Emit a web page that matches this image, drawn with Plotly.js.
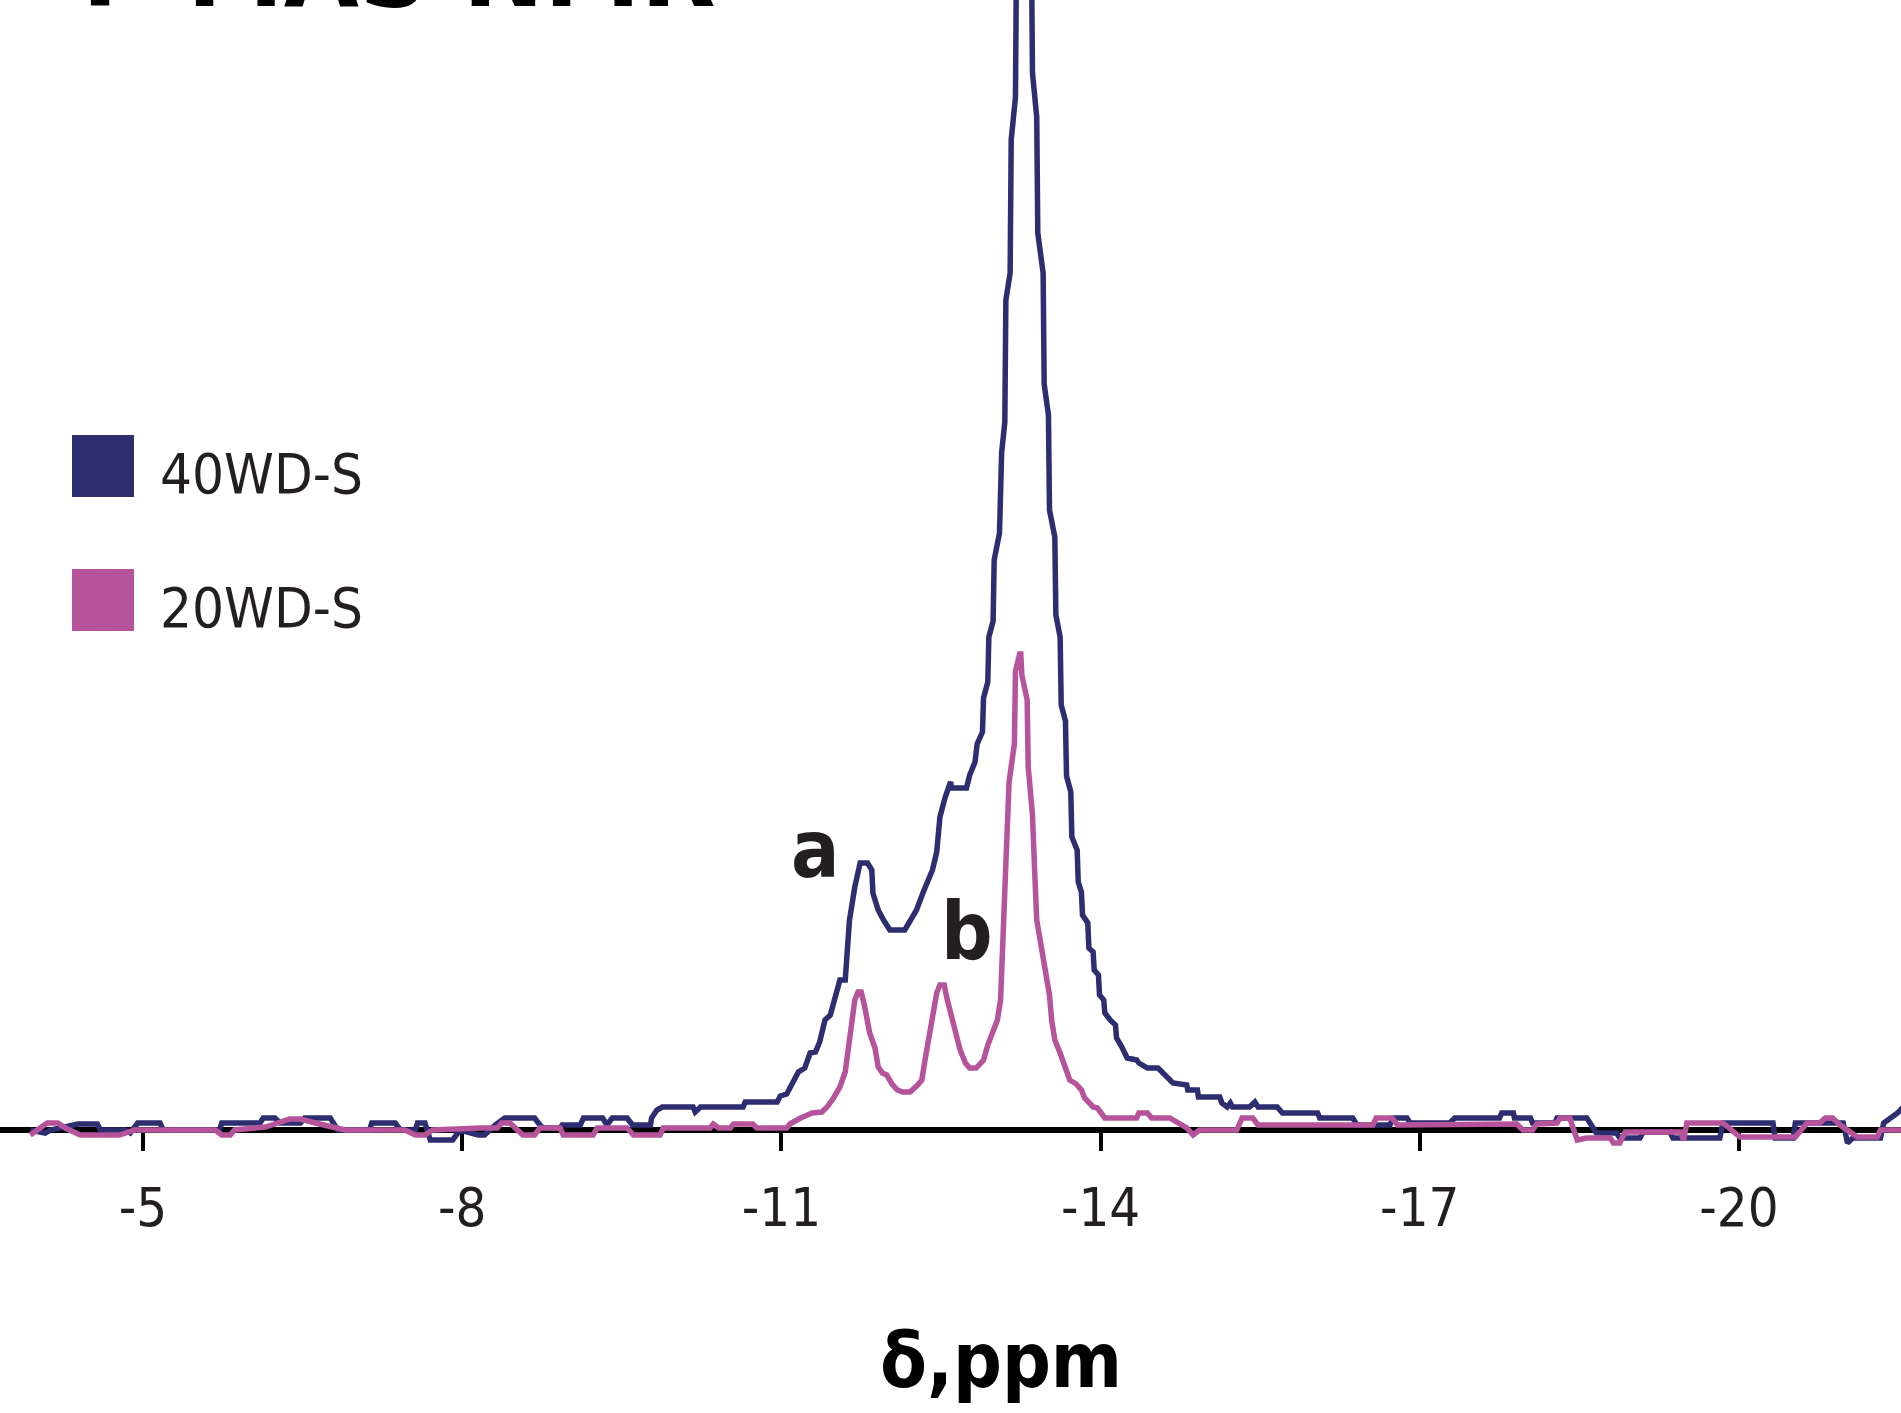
<!DOCTYPE html>
<html>
<head>
<meta charset="utf-8">
<script src="https://cdn.plot.ly/plotly-3.0.1.min.js"></script>
<style>
html,body{margin:0;padding:0;background:#fff;}
#chart{width:1901px;height:1413px;}
</style>
</head>
<body>
<div id="chart"></div>
<script>
// ---- data (chemical shift in ppm, intensity in arbitrary units) ----
const seriesNames = ["40WD-S", "20WD-S"];
const seriesColors = ["#2c2e70", "#b5549b"];

const ppm40 = [-3.94,-4.08,-4.13,-4.39,-4.57,-4.60,-4.83,-4.88,-4.95,-5.16,-5.19,-5.72,-5.74,-6.10,-6.13,-6.24,-6.29,-6.48,-6.52,-6.76,
-6.83,-7.13,-7.15,-7.37,-7.42,-7.56,-7.58,-7.65,-7.70,-7.91,-7.98,-8.15,-8.21,-8.31,-8.40,-8.68,-8.73,-8.76,-8.92,-8.94,
-9.11,-9.14,-9.32,-9.36,-9.41,-9.55,-9.60,-9.77,-9.78,-9.83,-9.88,-10.17,-10.19,-10.24,-10.64,-10.66,-10.96,-10.99,-11.05,-11.08,
-11.11,-11.16,-11.22,-11.27,-11.32,-11.36,-11.41,-11.46,-11.52,-11.55,-11.60,-11.62,-11.64,-11.69,-11.74,-11.81,-11.85,-11.86,-11.91,-11.96,
-12.02,-12.16,-12.21,-12.27,-12.33,-12.42,-12.46,-12.49,-12.54,-12.59,-12.60,-12.74,-12.77,-12.82,-12.84,-12.89,-12.90,-12.94,-12.95,-12.99,
-13.00,-13.05,-13.07,-13.10,-13.11,-13.15,-13.16,-13.20,-13.21,-13.27,-13.35,-13.36,-13.40,-13.41,-13.46,-13.47,-13.51,-13.52,-13.57,-13.58,
-13.62,-13.63,-13.67,-13.68,-13.72,-13.73,-13.78,-13.79,-13.82,-13.83,-13.88,-13.89,-13.93,-13.94,-13.98,-13.99,-14.03,-14.04,-14.09,-14.14,
-14.15,-14.18,-14.20,-14.25,-14.34,-14.36,-14.44,-14.54,-14.61,-14.68,-14.81,-14.82,-14.91,-14.92,-15.12,-15.14,-15.19,-15.22,-15.24,-15.40,
-15.45,-15.48,-15.66,-15.71,-16.04,-16.06,-16.37,-16.41,-16.72,-16.75,-16.88,-16.91,-17.28,-17.33,-17.75,-17.77,-17.88,-17.89,-18.04,-18.06,
-18.27,-18.29,-18.57,-18.60,-18.66,-18.85,-18.88,-19.07,-19.10,-19.35,-19.38,-19.82,-19.85,-20.32,-20.34,-20.51,-20.53,-20.98,-21.02,-21.07,
-21.33,-21.36,-21.42,-21.49,-21.56];
const int40 = [0,-0.3,0,0.6,0.6,0,0,-0.3,0.7,0.7,0,0,0.7,0.7,1.2,1.2,0.7,0.7,1.2,1.2,
0,0,0.7,0.7,0,0,0.7,0.7,-1,-1,0,-0.5,-0.5,0.5,1.2,1.2,0.5,0.2,0.2,0.5,
0.5,1.2,1.2,0.5,1.2,1.2,0.5,0.5,1.2,2,2.3,2.3,1.8,2.3,2.3,2.8,2.8,3.4,3.6,4.3,
4.8,5.8,6.2,7.7,7.8,8.8,11,11.5,13.7,15,15,17.7,21,24.3,26.7,26.7,26,23.7,22,21,
20,20,21,22,23.7,26,27.8,31.3,33.3,34.8,34.2,34.2,35.5,36.8,38.6,39.8,43.2,44.8,49.3,50.9,
57,59.7,67.7,70.8,83,85.7,99,103.3,118,130,118,105.7,101.3,89.7,85.7,74.6,71.5,62,59.3,51.5,
49.3,42.5,40.9,35.4,33.8,29.3,28,24.8,23.8,21.5,20.7,18.2,17.8,16,15.5,13.5,13,11.7,11,10.5,
9.2,8.7,8.3,7.2,7,6.7,6.2,6.2,5.5,4.7,4.5,4,4,3.3,3.3,2.7,2.3,2.7,2.3,2.3,
2.8,2.3,2.3,1.7,1.7,1.2,1.2,0.5,0.5,1.2,1.2,0.7,0.7,1.2,1.2,1.7,1.7,1.2,1.2,0.7,
0.7,1.2,1.2,0.7,-0.3,-0.3,-0.8,-0.8,-0.2,-0.2,-0.8,-0.8,0.7,0.7,-0.8,-0.8,0.7,0.7,-1.3,-0.8,
-0.8,0.7,1.2,1.7,2.5];

const ppm20 = [-3.94,-4.10,-4.20,-4.27,-4.41,-4.78,-4.92,-5.68,-5.74,-5.82,-5.86,-6.15,-6.38,-6.48,-6.62,-6.71,-6.90,-7.46,-7.56,-7.65,
-7.72,-8.17,-8.33,-8.37,-8.45,-8.57,-8.68,-8.73,-8.92,-8.95,-9.23,-9.27,-9.55,-9.61,-9.86,-9.89,-10.33,-10.36,-10.41,-10.52,
-10.55,-10.73,-10.77,-11.05,-11.08,-11.18,-11.29,-11.38,-11.43,-11.49,-11.55,-11.60,-11.63,-11.66,-11.69,-11.72,-11.75,-11.78,-11.81,-11.83,
-11.88,-11.91,-11.95,-11.99,-12.04,-12.09,-12.14,-12.21,-12.28,-12.32,-12.35,-12.37,-12.42,-12.46,-12.49,-12.53,-12.56,-12.60,-12.63,-12.68,
-12.73,-12.77,-12.83,-12.90,-12.94,-12.98,-13.03,-13.06,-13.08,-13.11,-13.14,-13.19,-13.20,-13.24,-13.25,-13.26,-13.31,-13.32,-13.36,-13.38,
-13.40,-13.44,-13.48,-13.52,-13.54,-13.57,-13.62,-13.67,-13.71,-13.77,-13.82,-13.85,-13.93,-13.97,-14.04,-14.34,-14.36,-14.44,-14.48,-14.65,
-14.75,-14.81,-14.87,-14.93,-15.28,-15.33,-15.43,-15.48,-16.56,-16.59,-16.74,-16.79,-17.91,-17.97,-18.06,-18.10,-18.29,-18.32,-18.41,-18.48,
-18.57,-18.79,-18.82,-18.88,-18.93,-19.45,-19.48,-19.51,-19.85,-20.01,-20.53,-20.57,-20.64,-20.76,-20.81,-20.88,-20.95,-21.02,-21.11,-21.30,
-21.33,-21.56];
const int20 = [-0.5,0.7,0.7,0.2,-0.5,-0.5,0,0,-0.5,-0.5,0,0.3,1.1,1.1,0.7,0.5,0,0,-0.5,-0.5,
0,0.2,0.2,0.7,0.7,-0.5,-0.5,0.2,0.2,-0.5,-0.5,0.2,0.2,-0.5,-0.5,0.2,0.2,0.6,0.2,0.2,
0.6,0.6,0.2,0.2,0.6,1.2,1.7,1.8,2.3,3.2,4.3,5.8,8,10.5,13,13.8,13.8,12.5,11,9.7,
8.2,6.3,5.7,5.5,4.6,4.0,3.8,3.8,4.5,5,7,8.3,11,13.7,14.5,14.5,13,11.3,9.7,8.0,
6.7,6.2,6.2,7,8.5,9.5,11,13,18.3,27,34.8,38.6,45.9,47.6,47.6,45.5,43,36.3,31.5,26,
21,18.5,16.3,13.5,11,9,7.7,6.2,5,4.6,4,3.2,2.3,2.2,1.2,1.2,1.7,1.7,1.2,1.2,
0.5,0.2,-0.5,0,0,1.2,1.2,0.5,0.5,1.2,1.2,0.5,0.6,0,0,0.6,0.7,1.2,1.2,-1,
-0.8,-0.8,-1.3,-1.3,-0.2,-0.2,-1,0.7,0.7,-0.7,-0.7,-0.2,0.7,0.7,1.2,1.2,0.5,0,-0.7,-0.7,
0,0];

const tickVals = [-5, -8, -11, -14, -17, -20];
const tickText = ["-5", "-8", "-11", "-14", "-17", "-20"];
const peakLabels = ["a", "b"];
const peakLabelPpm = [-11.32, -12.74];
const titleText = "³¹P MAS NMR";
const xTitleText = "δ,ppm";

// ---- layout helpers (pixel geometry of the figure) ----
const W = 1901, H = 1413, BOTTOM = 253;
const PH = H - BOTTOM;            // plot area height in px
const py = v => (PH - v) / PH;    // px from top -> paper y
const px = v => v / W;            // px from left -> paper x

const FONT = "'DejaVu Sans Condensed', 'Liberation Sans Narrow', 'Liberation Sans', Arial, sans-serif";
const TXT = "#231f20";

const traces = [
  {x: ppm40, y: int40, name: seriesNames[0], type: "scatter", mode: "lines",
   line: {color: seriesColors[0], width: 5.5}, showlegend: false, hoverinfo: "skip"},
  {x: ppm20, y: int20, name: seriesNames[1], type: "scatter", mode: "lines",
   line: {color: seriesColors[1], width: 5.5}, showlegend: false, hoverinfo: "skip"}
];

const annotations = [
  {text: titleText, xref: "paper", yref: "paper", x: px(718), y: py(-31), xanchor: "right", yanchor: "middle",
   showarrow: false, font: {family: FONT, size: 108, color: "#000", weight: 700}},
  {text: seriesNames[0], xref: "paper", yref: "paper", x: px(158), y: py(473), xanchor: "left", yanchor: "middle",
   showarrow: false, font: {family: FONT, size: 56, color: TXT}},
  {text: seriesNames[1], xref: "paper", yref: "paper", x: px(158), y: py(608), xanchor: "left", yanchor: "middle",
   showarrow: false, font: {family: FONT, size: 56, color: TXT}},
  {text: peakLabels[0], xref: "x", yref: "paper", x: peakLabelPpm[0], y: py(849), xanchor: "center", yanchor: "middle",
   showarrow: false, font: {family: FONT, size: 80, color: TXT, weight: 700}},
  {text: peakLabels[1], xref: "x", yref: "paper", x: peakLabelPpm[1], y: py(931), xanchor: "center", yanchor: "middle",
   showarrow: false, font: {family: FONT, size: 80, color: TXT, weight: 700}},
  {text: xTitleText, xref: "paper", yref: "paper", x: px(1001), y: py(1360), xanchor: "center", yanchor: "middle",
   showarrow: false, font: {family: FONT, size: 76, color: "#000", weight: 700}}
];

const shapes = [
  {type: "rect", xref: "paper", yref: "paper", x0: px(72), x1: px(134), y0: py(497), y1: py(435),
   fillcolor: seriesColors[0], line: {width: 0}},
  {type: "rect", xref: "paper", yref: "paper", x0: px(72), x1: px(134), y0: py(631), y1: py(569),
   fillcolor: seriesColors[1], line: {width: 0}}
];

const layout = {
  width: W, height: H,
  margin: {l: 0, r: 0, t: 0, b: BOTTOM, pad: 0},
  paper_bgcolor: "#fff", plot_bgcolor: "#fff",
  showlegend: false,
  xaxis: {
    range: [-3.656, -21.523], anchor: "free", position: (PH - 1130) / PH,
    showline: true, linecolor: "#000", linewidth: 6,
    ticks: "outside", ticklen: 18, tickwidth: 4, tickcolor: "#000",
    tickmode: "array", tickvals: tickVals, ticktext: tickText,
    tickfont: {family: FONT, size: 54, color: TXT}, ticklabelstandoff: 10,
    showgrid: false, zeroline: false, layer: "below traces", fixedrange: true
  },
  yaxis: {range: [-3, 113], visible: false, showgrid: false, zeroline: false, fixedrange: true},
  annotations: annotations,
  shapes: shapes
};

Plotly.newPlot("chart", traces, layout, {displayModeBar: false, staticPlot: true});
</script>
</body>
</html>
